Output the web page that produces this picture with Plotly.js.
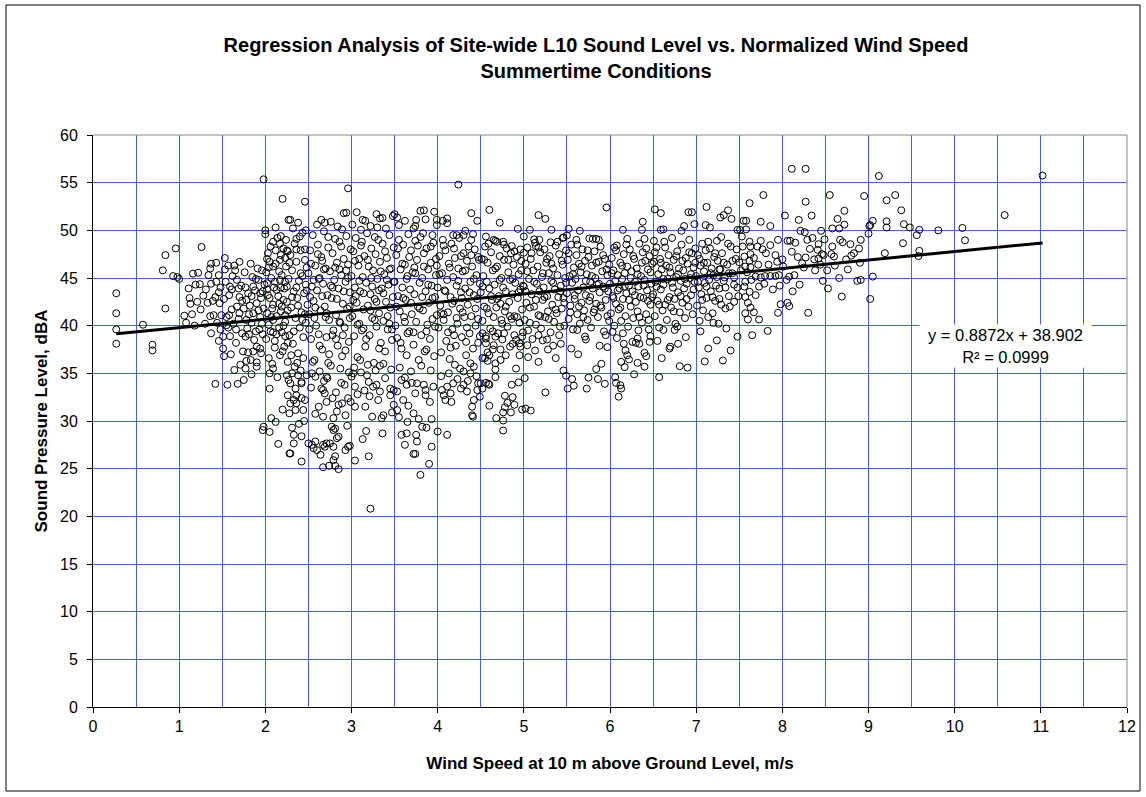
<!DOCTYPE html>
<html><head><meta charset="utf-8">
<script src="https://cdn.plot.ly/plotly-3.0.1.min.js"></script>
<style>html,body{margin:0;padding:0;background:#fff}#chart{width:1146px;height:797px}</style>
</head><body><div id="chart"></div>
<script>
// [wind speed m/s, L10 dBA]
const speedUnder1 = [[0.27,43.4],[0.27,41.3],[0.27,39.6],[0.27,38.1],[0.58,40.1],[0.69,38.0],[0.69,37.4],[0.81,45.8],[0.84,47.4],[0.84,41.8],[0.93,45.2],[0.96,48.1],[0.98,45.1]];

const speed1to2 = [[1.0,44.9],[1.06,41.05],[1.13,42.3],[1.15,41.2],[1.16,45.45],[1.21,42.5],[1.22,45.55],[1.24,44.35],[1.26,48.25],[1.28,43.15],[1.36,46.0],[1.37,46.5],[1.37,44.4],[1.36,41.0],[1.37,39.2],[1.40,41.1],[1.42,43.0],[1.42,33.9],[1.43,46.6],[1.43,44.6],[1.46,43.5],[1.46,38.4],[1.47,42.35],[1.49,41.1],[1.51,38.85],[1.51,37.6],[1.53,47.1],[1.55,40.9],[1.55,40.05],[1.56,33.8],[1.57,46.3],[1.59,44.1],[1.59,38.9],[1.64,35.35],[1.65,45.8],[1.67,44.8],[1.67,42.0],[1.68,33.9],[1.69,43.9],[1.70,46.7],[1.70,43.0],[1.70,41.3],[1.71,35.9],[1.73,39.2],[1.74,37.3],[1.77,38.85],[1.77,35.5],[1.78,42.7],[1.78,40.6],[1.78,36.3],[1.80,43.4],[1.80,37.2],[1.81,39.1],[1.83,46.5],[1.86,44.1],[1.86,41.3],[1.86,37.3],[1.90,42.35],[1.90,37.8],[1.90,36.15],[1.90,35.7],[1.91,46.0],[1.92,44.8],[1.94,43.4],[1.94,40.9],[1.94,37.6],[1.95,37.1],[1.96,45.8],[1.97,39.1],[1.98,41.8],[1.98,55.35],[1.98,29.4],[1.97,29.05],
[1.52,42.8],[1.54,44.6],[1.58,43.2],[1.61,41.7],[1.63,40.2],[1.66,39.6],[1.72,44.2],[1.75,41.8],[1.76,45.6],[1.79,39.7],[1.82,42.1],[1.84,40.3],[1.85,45.1],[1.88,43.7],[1.89,39.4],[1.92,41.6],[1.95,42.9],[1.96,40.2],[1.99,44.3],[1.87,38.5],[1.62,45.2],[1.57,39.8],[1.46,45.3],[1.33,42.4],[1.30,40.2],[1.18,40.0],[1.11,43.9],[1.08,40.3],[1.52,36.8],[1.60,37.0],[1.75,34.3],[1.84,34.9],
[1.12,42.9],[1.19,44.3],[1.25,41.7],[1.31,43.8],[1.34,45.3],[1.39,42.6],[1.44,40.3],[1.48,44.0],[1.53,45.9],[1.58,41.1],[1.61,43.8],[1.64,46.3],[1.69,40.7],[1.73,42.6],[1.77,44.0],[1.81,41.2],[1.84,43.1],[1.89,44.9],[1.93,39.6],[1.97,43.6],[1.66,38.2],[1.83,36.4],[1.48,39.6]];

const speed2to3 = [[2.0,50.0],[2.0,49.6],[2.02,47.0],[2.05,46.7],[2.09,46.2],[2.12,47.9],[2.17,48.6],[2.18,49.4],[2.20,53.3],[2.23,47.1],[2.25,47.9],[2.27,51.1],[2.02,44.45],[2.05,42.9],[2.09,42.2],[2.13,43.75],[2.17,44.8],[2.21,42.7],[2.25,44.1],[2.02,41.3],[2.09,40.6],[2.19,42.0],[2.23,41.1],[2.04,36.6],[2.09,35.5],[2.05,35.0],[2.11,37.7],[2.22,37.8],[2.01,38.6],[2.09,39.3],[2.19,39.3],[2.23,38.9],[2.25,34.8],[2.27,34.3],[2.26,32.7],[2.28,30.8],[2.28,26.6],[2.07,30.3],[2.12,29.9],[2.05,28.85],[2.29,51.1],[2.36,49.1],[2.40,49.35],[2.43,49.75],[2.47,50.0],[2.46,53.0],
[2.31,35.0],[2.38,34.8],[2.42,34.1],[2.48,34.8],[2.29,33.95],[2.35,33.4],[2.42,33.95],[2.36,32.7],[2.33,32.2],[2.29,31.85],[2.36,31.85],[2.42,32.4],[2.46,32.2],[2.35,31.15],[2.44,31.15],[2.33,28.55],[2.42,28.4],[2.33,27.65],[2.29,26.6],[2.42,25.75],
[2.01,45.6],[2.03,43.2],[2.04,40.1],[2.06,48.3],[2.07,45.0],[2.08,41.8],[2.10,44.0],[2.11,38.4],[2.12,46.5],[2.13,41.0],[2.14,49.2],[2.15,43.1],[2.16,39.8],[2.17,46.9],[2.18,41.5],[2.19,45.3],[2.20,37.3],[2.21,48.1],[2.22,43.9],[2.23,40.4],[2.24,46.2],[2.25,42.5],[2.26,36.2],[2.27,44.9],[2.28,39.0],[2.29,47.4],[2.30,41.9],[2.31,45.8],[2.32,38.1],[2.33,43.6],[2.34,48.6],[2.35,40.8],[2.36,46.7],[2.37,42.9],[2.38,37.1],[2.39,44.7],[2.40,39.8],[2.41,47.9],[2.42,41.4],[2.43,45.2],[2.44,36.6],[2.45,43.4],[2.46,48.0],[2.47,40.3],[2.48,46.1],[2.49,42.2],[2.03,47.6],[2.08,36.0],[2.14,34.6],[2.18,44.0],[2.24,49.0],[2.30,36.9],[2.34,35.7],[2.38,50.8],[2.44,38.8],[2.47,44.3],[2.06,39.4],[2.16,42.3],[2.26,47.8],[2.36,44.0],[2.46,41.2],[2.12,50.3],[2.32,50.2],[2.41,35.3],[2.05,33.4],[2.20,31.2],[2.39,29.7],[2.15,27.6],[2.31,29.3],
[2.65,51.1],[2.69,50.8],[2.89,50.1],[2.91,51.8],[2.94,51.85],[2.96,54.4],
[2.58,34.65],[2.71,34.65],[2.67,33.25],[2.69,32.9],[2.65,33.4],[2.82,33.0],[2.71,32.0],[2.85,31.7],[2.83,31.0],[2.89,31.85],[2.67,30.45],[2.79,30.3],[2.93,30.6],[2.96,32.4],[2.58,30.75],
[2.50,27.65],[2.54,27.5],[2.58,27.85],[2.60,26.95],[2.56,27.15],[2.64,26.45],[2.67,27.5],[2.69,27.3],[2.71,27.65],[2.75,27.65],[2.79,27.3],[2.77,29.4],[2.81,29.2],[2.79,29.05],[2.83,28.2],[2.85,28.35],[2.81,26.3],[2.79,25.9],[2.93,26.95],[2.96,27.3],[2.98,27.4],[2.67,25.15],[2.74,25.3],[2.81,25.3],[2.85,24.95],
[2.50,45.5],[2.51,41.2],[2.52,47.9],[2.53,38.6],[2.54,44.1],[2.55,49.5],[2.56,42.6],[2.57,36.4],[2.58,46.3],[2.59,40.0],[2.60,43.7],[2.61,48.5],[2.62,39.1],[2.63,45.0],[2.64,41.6],[2.65,47.2],[2.66,37.5],[2.67,44.4],[2.68,49.9],[2.69,42.0],[2.70,46.0],[2.71,38.8],[2.72,43.2],[2.73,48.2],[2.74,40.6],[2.75,45.7],[2.76,35.8],[2.77,42.9],[2.78,47.6],[2.79,39.5],[2.80,44.8],[2.81,49.1],[2.82,41.1],[2.83,46.6],[2.84,37.9],[2.85,43.9],[2.86,48.8],[2.87,40.3],[2.88,45.3],[2.89,36.8],[2.90,42.3],[2.91,47.0],[2.92,39.8],[2.93,44.6],[2.94,49.4],[2.95,41.8],[2.96,46.4],[2.97,38.3],[2.98,43.5],[2.99,48.0],[2.52,43.0],[2.57,40.8],[2.62,44.9],[2.66,46.8],[2.70,40.9],[2.74,37.0],[2.78,44.0],[2.82,38.6],[2.86,45.9],[2.90,39.0],[2.94,45.8],[2.98,40.8],[2.55,36.2],[2.63,35.2],[2.73,36.1],[2.87,35.5],[2.97,35.1],[2.60,50.6],[2.76,50.9],[2.84,50.4],[2.53,33.5],[2.68,34.2],[2.78,32.4],[2.92,33.8],[2.99,32.0],
[2.02,43.8],[2.04,46.1],[2.07,40.9],[2.09,48.8],[2.11,44.6],[2.13,39.1],[2.16,45.7],[2.18,47.4],[2.21,40.0],[2.23,44.6],[2.26,41.6],[2.28,46.6],[2.31,43.0],[2.33,39.4],[2.36,48.0],[2.38,42.1],[2.41,45.5],[2.43,40.6],[2.46,46.9],[2.48,43.7],[2.51,39.6],[2.53,46.5],[2.56,44.8],[2.58,41.9],[2.61,47.5],[2.63,37.9],[2.66,43.1],[2.68,45.9],[2.71,41.3],[2.73,49.3],[2.76,44.2],[2.78,39.0],[2.81,46.1],[2.83,42.8],[2.86,40.4],[2.88,48.3],[2.91,43.6],[2.93,37.4],[2.96,45.0],[2.98,42.0],[2.54,35.0],[2.72,34.5],[2.88,34.0],[2.62,31.5],[2.95,29.5],[2.45,30.0],[2.26,38.2],[2.37,36.1],[2.17,36.9]];

const speed3to4 = [[3.06,51.9],[3.13,51.1],[3.16,51.0],[3.22,50.45],[3.29,51.7],[3.30,50.3],[3.33,51.25],[3.36,51.3],[3.40,50.2],[3.48,51.5],[3.01,50.6],[3.11,50.05],
[3.0,34.65],[3.02,35.0],[3.04,33.6],[3.18,34.8],[3.20,34.1],[3.29,33.8],[3.33,33.1],[3.31,32.2],[3.45,32.7],[3.49,33.25],[3.45,33.4],[3.04,31.5],[3.16,31.5],[3.24,30.45],[3.37,30.6],[3.35,30.3],[3.04,25.85],[3.13,28.1],[3.17,28.95],[3.20,26.3],[3.22,20.8],
[3.00,45.2],[3.01,41.0],[3.02,47.8],[3.03,38.9],[3.04,44.0],[3.05,49.2],[3.06,42.4],[3.07,36.7],[3.08,46.3],[3.09,40.2],[3.10,43.6],[3.11,48.4],[3.12,39.5],[3.13,45.1],[3.14,41.7],[3.15,47.3],[3.16,37.8],[3.17,44.5],[3.18,49.7],[3.19,42.1],[3.20,46.2],[3.21,39.0],[3.22,43.3],[3.23,48.1],[3.24,40.8],[3.25,45.8],[3.26,36.1],[3.27,42.8],[3.28,47.5],[3.29,39.9],[3.30,44.9],[3.31,49.0],[3.32,41.3],[3.33,46.7],[3.34,38.2],[3.35,43.9],[3.36,48.6],[3.37,40.5],[3.38,45.4],[3.39,37.3],[3.40,42.5],[3.41,47.1],[3.42,39.6],[3.43,44.3],[3.44,49.5],[3.45,41.9],[3.46,46.0],[3.47,38.5],[3.48,43.0],[3.49,48.2],[3.03,35.6],[3.11,35.1],[3.19,35.9],[3.28,35.3],[3.37,36.0],[3.46,35.4],[3.05,43.1],[3.14,39.7],[3.23,45.0],[3.32,43.7],[3.41,44.8],[3.09,47.0],[3.27,40.6],[3.44,40.2],[3.15,33.2],[3.39,34.5],[3.25,33.6],[3.07,32.8],
[3.50,51.7],[3.53,51.35],[3.55,50.55],[3.62,51.0],[3.72,50.2],[3.74,50.45],[3.75,51.1],[3.80,52.05],[3.84,52.1],[3.86,51.15],[3.94,49.5],[3.96,51.95],[3.99,51.1],[3.99,50.55],
[3.62,34.55],[3.64,33.8],[3.60,32.2],[3.66,31.6],[3.72,30.8],[3.74,32.9],[3.76,33.95],[3.84,33.8],[3.86,33.25],[3.86,32.7],[3.91,32.0],[3.78,30.2],[3.93,30.2],[3.53,33.1],[3.49,31.7],[3.53,31.15],[3.55,30.4],
[3.58,28.55],[3.64,28.7],[3.62,27.5],[3.75,28.55],[3.76,27.85],[3.72,26.55],[3.74,26.55],[3.87,29.3],[3.93,27.3],[3.90,25.5],[3.80,24.35],
[3.50,44.6],[3.51,40.0],[3.52,47.4],[3.53,38.7],[3.54,43.1],[3.55,49.0],[3.56,41.5],[3.57,45.9],[3.58,37.6],[3.59,44.0],[3.60,48.5],[3.61,40.9],[3.62,46.4],[3.63,42.7],[3.64,36.9],[3.65,45.2],[3.66,49.6],[3.67,39.4],[3.68,43.8],[3.69,47.9],[3.70,41.2],[3.71,45.6],[3.72,38.0],[3.73,43.3],[3.74,48.9],[3.75,40.4],[3.76,46.9],[3.77,42.0],[3.78,36.4],[3.79,44.5],[3.80,49.3],[3.81,39.0],[3.82,45.0],[3.83,41.6],[3.84,47.6],[3.85,37.3],[3.86,43.6],[3.87,48.1],[3.88,40.1],[3.89,45.9],[3.90,42.4],[3.91,38.6],[3.92,46.6],[3.93,44.2],[3.94,40.7],[3.95,48.7],[3.96,36.8],[3.97,43.0],[3.98,47.0],[3.99,41.1],[3.56,35.6],[3.69,35.2],[3.81,35.8],[3.92,35.3],[3.60,42.9],[3.73,46.1],[3.87,39.4],[3.98,45.3],[3.65,39.2],[3.83,49.7],
[3.02,42.7],[3.04,46.8],[3.07,40.1],[3.09,44.7],[3.12,48.8],[3.14,43.4],[3.17,38.6],[3.19,46.9],[3.22,41.6],[3.24,44.1],[3.27,49.3],[3.29,42.5],[3.32,37.6],[3.34,45.7],[3.37,43.4],[3.39,47.8],[3.42,41.0],[3.44,45.9],[3.47,39.6],[3.49,44.6],[3.52,42.0],[3.54,48.1],[3.57,38.2],[3.59,46.5],[3.62,40.4],[3.64,44.9],[3.67,47.2],[3.69,42.4],[3.72,39.3],[3.74,45.5],[3.77,48.4],[3.79,41.8],[3.82,43.0],[3.84,46.2],[3.87,37.5],[3.89,44.3],[3.92,48.3],[3.94,42.9],[3.97,39.9],[3.99,46.3],[3.10,36.4],[3.33,35.8],[3.58,34.3],[3.70,34.0],[3.95,33.6],[3.21,32.6],[3.47,30.9],[3.82,29.4],[3.65,29.9],[3.36,28.7]];

const speed4to5 = [[4.06,51.0],[4.11,51.25],[4.11,50.75],[4.18,49.5],[4.22,49.5],[4.24,54.8],[4.30,49.5],[4.32,49.95],[4.39,51.8],[4.41,49.6],[4.46,51.0],
[4.05,33.25],[4.07,32.7],[4.09,32.2],[4.11,33.6],[4.15,32.9],[4.16,32.0],[4.18,33.95],[4.30,33.8],[4.34,33.1],[4.40,31.5],[4.42,32.2],[4.40,30.6],[4.41,30.45],[4.46,33.25],[4.47,33.95],[4.49,32.55],[4.20,35.9],[4.26,35.5],[4.30,35.2],[4.38,35.0],[4.38,36.05],[4.42,35.7],[4.0,28.9],[4.11,28.55],
[4.00,44.0],[4.01,39.8],[4.02,47.3],[4.03,42.1],[4.04,37.2],[4.05,45.5],[4.06,49.0],[4.07,40.6],[4.08,43.7],[4.09,47.9],[4.10,38.4],[4.11,44.8],[4.12,41.4],[4.13,46.5],[4.14,36.5],[4.15,43.0],[4.16,48.6],[4.17,39.6],[4.18,45.1],[4.19,42.6],[4.20,47.1],[4.21,37.9],[4.22,44.2],[4.23,40.2],[4.24,46.0],[4.25,49.2],[4.26,41.8],[4.27,43.5],[4.28,38.8],[4.29,45.7],[4.30,47.6],[4.31,40.9],[4.32,43.9],[4.33,36.9],[4.34,46.8],[4.35,42.2],[4.36,48.3],[4.37,39.2],[4.38,44.6],[4.39,41.0],[4.40,46.2],[4.41,37.6],[4.42,43.2],[4.43,48.0],[4.44,40.0],[4.45,45.3],[4.46,42.8],[4.47,38.2],[4.48,46.9],[4.49,44.4],[4.04,34.7],[4.13,35.0],[4.23,34.4],[4.35,34.2],[4.45,34.7],[4.07,41.2],[4.19,39.0],[4.28,42.9],[4.39,47.4],[4.47,40.7],
[4.60,52.15],[4.72,50.8],[4.93,50.15],[4.56,49.35],[4.65,49.0],[4.69,48.8],[4.76,48.8],[4.86,48.35],[4.96,48.0],
[4.50,33.95],[4.56,34.0],[4.59,33.9],[4.60,33.8],[4.52,33.4],[4.67,34.6],[4.78,32.65],[4.87,32.5],[4.89,31.7],[4.81,31.9],[4.78,31.45],[4.76,30.9],[4.68,30.3],[4.76,30.05],[4.76,29.0],[4.86,33.8],[4.94,34.05],[4.98,31.2],
[4.52,39.2],[4.56,38.65],[4.56,38.15],[4.65,37.95],[4.73,37.5],[4.67,38.85],[4.75,38.55],[4.77,39.2],[4.87,38.1],[4.89,39.0],[4.95,38.15],[4.96,37.8],[4.98,38.85],[4.60,36.9],[4.58,36.3],[4.67,36.05],[4.67,35.4],[4.52,36.6],
[4.50,43.5],[4.51,47.0],[4.52,40.5],[4.53,45.2],[4.54,42.0],[4.55,48.3],[4.56,38.9],[4.57,44.6],[4.58,46.6],[4.59,41.3],[4.60,43.9],[4.61,39.7],[4.62,47.7],[4.63,42.7],[4.64,45.8],[4.65,40.9],[4.66,44.3],[4.67,48.9],[4.68,41.9],[4.69,46.2],[4.70,39.2],[4.71,43.1],[4.72,47.3],[4.73,42.3],[4.74,45.0],[4.75,40.2],[4.76,44.0],[4.77,46.9],[4.78,41.5],[4.79,43.6],[4.80,48.1],[4.81,39.9],[4.82,45.6],[4.83,42.5],[4.84,44.8],[4.85,47.6],[4.86,40.7],[4.87,43.3],[4.88,46.4],[4.89,41.0],[4.90,44.5],[4.91,38.5],[4.92,47.2],[4.93,42.9],[4.94,45.4],[4.95,40.3],[4.96,43.8],[4.97,46.8],[4.98,41.7],[4.99,44.2],[4.55,36.6],[4.64,37.5],[4.73,36.4],[4.84,37.8],[4.95,36.9],
[4.02,45.4],[4.04,41.3],[4.07,48.4],[4.09,43.6],[4.12,39.3],[4.14,46.1],[4.17,42.3],[4.19,48.1],[4.22,40.8],[4.24,44.7],[4.27,47.3],[4.29,41.4],[4.32,45.8],[4.34,39.8],[4.37,43.5],[4.39,49.0],[4.42,44.9],[4.44,41.8],[4.47,47.2],[4.49,38.9],[4.52,44.1],[4.54,46.9],[4.57,41.8],[4.59,48.6],[4.62,43.1],[4.64,39.4],[4.67,46.0],[4.69,42.8],[4.72,44.8],[4.74,40.6],[4.77,48.5],[4.79,42.0],[4.82,46.9],[4.84,41.0],[4.87,44.9],[4.89,47.8],[4.92,40.9],[4.94,43.5],[4.97,45.8],[4.99,39.3],[4.15,37.7],[4.33,38.3],[4.58,37.2],[4.79,36.9],[4.91,35.5],[4.27,33.4],[4.85,30.9],[4.60,31.6]];

const speed5to6 = [[5.07,50.05],[5.17,51.6],[5.25,51.2],[5.32,50.05],[5.52,50.15],[5.46,49.25],[5.50,49.45],[5.65,49.95],[5.96,52.4],[5.0,49.35],[5.12,49.05],[5.14,48.35],[5.18,49.0],[5.31,48.75],[5.45,49.2],[5.61,49.0],[5.76,49.15],[5.80,49.1],[5.84,49.1],[5.87,49.0],[5.0,47.65],
[5.01,34.5],[5.02,31.3],[5.08,31.1],[5.49,34.75],[5.56,34.4],[5.58,33.7],[5.51,33.4],[5.73,33.4],[5.75,34.55],[5.86,34.4],[5.94,33.9],[5.84,35.45],[5.04,37.95],[5.05,36.7],[5.17,36.2],[5.17,39.0],[5.22,38.45],[5.27,38.55],[5.28,37.5],[5.34,37.9],[5.41,39.0],[5.43,38.1],[5.55,37.6],[5.62,39.55],[5.71,38.85],[5.72,38.55],[5.95,39.0],[5.97,37.75],
[5.00,44.1],[5.01,40.6],[5.02,46.5],[5.03,42.4],[5.04,48.2],[5.05,39.5],[5.06,44.9],[5.07,41.9],[5.08,47.0],[5.09,43.3],[5.10,38.6],[5.11,45.8],[5.12,42.0],[5.13,48.7],[5.14,40.1],[5.15,44.4],[5.16,46.2],[5.17,41.1],[5.18,43.6],[5.19,47.7],[5.20,39.7],[5.21,45.1],[5.22,42.7],[5.23,44.0],[5.24,48.0],[5.25,40.9],[5.26,46.6],[5.27,43.1],[5.28,41.5],[5.29,45.5],[5.30,47.3],[5.31,39.3],[5.32,44.7],[5.33,42.2],[5.34,46.0],[5.35,40.4],[5.36,43.8],[5.37,48.4],[5.38,41.3],[5.39,45.3],[5.40,43.0],[5.41,47.5],[5.42,39.9],[5.43,44.2],[5.44,41.8],[5.45,46.4],[5.46,42.9],[5.47,40.0],[5.48,45.0],[5.49,47.9],
[5.50,43.4],[5.51,46.9],[5.52,40.7],[5.53,45.2],[5.54,42.1],[5.55,48.5],[5.56,44.5],[5.57,39.6],[5.58,46.1],[5.59,42.8],[5.60,44.9],[5.61,47.4],[5.62,41.2],[5.63,43.7],[5.64,46.5],[5.65,40.2],[5.66,45.6],[5.67,42.4],[5.68,48.0],[5.69,44.0],[5.70,41.6],[5.71,46.8],[5.72,43.2],[5.73,45.4],[5.74,40.6],[5.75,47.2],[5.76,42.6],[5.77,44.6],[5.78,39.8],[5.79,46.3],[5.80,43.9],[5.81,41.4],[5.82,47.8],[5.83,45.0],[5.84,42.3],[5.85,44.3],[5.86,40.9],[5.87,46.7],[5.88,43.5],[5.89,48.3],[5.90,41.9],[5.91,45.7],[5.92,44.1],[5.93,39.4],[5.94,47.0],[5.95,42.7],[5.96,45.9],[5.97,41.0],[5.98,43.6],[5.99,46.4],
[5.02,43.6],[5.04,45.7],[5.07,40.3],[5.09,47.6],[5.12,44.6],[5.14,42.7],[5.17,48.2],[5.19,41.0],[5.22,45.5],[5.24,43.0],[5.27,47.0],[5.29,40.7],[5.32,46.5],[5.34,44.5],[5.37,41.7],[5.39,48.8],[5.42,43.6],[5.44,46.8],[5.47,42.4],[5.49,44.5],[5.52,47.6],[5.54,41.4],[5.57,45.4],[5.59,43.2],[5.62,48.5],[5.64,42.0],[5.67,46.2],[5.69,40.9],[5.72,44.7],[5.74,47.9],[5.77,43.0],[5.79,45.2],[5.82,41.7],[5.84,46.6],[5.87,44.4],[5.89,42.1],[5.92,47.4],[5.94,43.9],[5.97,45.3],[5.99,40.5],[5.13,37.4],[5.37,36.6],[5.63,37.0],[5.88,37.9],[5.46,35.3],[5.25,33.0],[5.90,36.0]];

const speed6to7 = [[6.15,50.05],[6.38,50.9],[6.37,50.05],[6.52,52.2],[6.59,51.8],[6.59,50.05],[6.62,50.1],[6.05,48.2],[6.20,49.1],[6.40,49.1],[6.51,48.9],[6.98,50.65],[6.86,50.45],[6.83,49.95],[6.91,51.9],[6.95,51.9],
[6.06,34.6],[6.07,34.0],[6.12,33.75],[6.13,33.4],[6.10,32.55],[6.28,34.9],[6.57,34.6],[6.03,39.35],[6.16,38.1],[6.18,37.4],[6.20,36.9],[6.22,36.45],[6.13,36.2],[6.17,35.65],[6.26,38.3],[6.30,38.2],[6.32,38.65],[6.34,38.1],[6.40,37.15],[6.42,36.8],[6.32,36.1],[6.40,35.7],[6.46,38.3],[6.47,38.9],[6.62,39.55],[6.69,37.6],
[6.75,39.55],[6.70,37.8],[6.79,38.1],[6.88,38.8],[6.81,35.75],[6.90,35.6],
[6.00,44.4],[6.01,41.3],[6.02,47.1],[6.03,43.1],[6.04,45.8],[6.05,40.0],[6.06,44.7],[6.07,42.3],[6.08,48.4],[6.09,45.3],[6.10,41.7],[6.11,43.9],[6.12,46.6],[6.13,40.5],[6.14,44.9],[6.15,42.8],[6.16,47.5],[6.17,45.5],[6.18,41.0],[6.19,43.4],[6.20,46.2],[6.21,39.9],[6.22,44.2],[6.23,48.0],[6.24,42.0],[6.25,45.7],[6.26,43.6],[6.27,40.8],[6.28,47.0],[6.29,44.6],[6.30,42.5],[6.31,46.0],[6.32,41.5],[6.33,44.1],[6.34,48.6],[6.35,43.0],[6.36,45.2],[6.37,40.3],[6.38,47.7],[6.39,42.9],[6.40,44.8],[6.41,46.8],[6.42,41.2],[6.43,43.7],[6.44,45.9],[6.45,39.6],[6.46,47.3],[6.47,42.2],[6.48,44.4],[6.49,46.5],
[6.50,43.3],[6.51,46.7],[6.52,41.0],[6.53,44.6],[6.54,48.2],[6.55,42.6],[6.56,45.4],[6.57,39.8],[6.58,47.0],[6.59,43.8],[6.60,45.9],[6.61,41.6],[6.62,44.3],[6.63,48.8],[6.64,42.2],[6.65,46.3],[6.66,40.6],[6.67,44.9],[6.68,47.4],[6.69,43.0],[6.70,45.6],[6.71,41.9],[6.72,49.2],[6.73,44.0],[6.74,46.9],[6.75,42.8],[6.76,40.2],[6.77,45.1],[6.78,47.8],[6.79,43.5],[6.80,46.0],[6.81,41.4],[6.82,44.7],[6.83,48.5],[6.84,42.4],[6.85,45.8],[6.86,43.9],[6.87,40.8],[6.88,47.1],[6.89,44.4],[6.90,46.5],[6.91,42.0],[6.92,49.0],[6.93,45.0],[6.94,43.2],[6.95,47.6],[6.96,41.2],[6.97,46.1],[6.98,44.6],[6.99,48.1],
[6.02,45.5],[6.04,42.9],[6.07,47.9],[6.09,43.7],[6.12,41.9],[6.14,46.3],[6.17,44.1],[6.19,48.5],[6.22,42.7],[6.24,45.0],[6.27,47.3],[6.29,43.2],[6.32,45.4],[6.34,40.9],[6.37,46.6],[6.39,44.2],[6.42,48.1],[6.44,42.6],[6.47,45.6],[6.49,43.0],[6.52,47.7],[6.54,44.1],[6.57,42.2],[6.59,46.6],[6.62,44.9],[6.64,48.2],[6.67,42.7],[6.69,46.1],[6.72,44.5],[6.74,41.5],[6.77,47.3],[6.79,45.4],[6.82,43.1],[6.84,46.8],[6.87,44.9],[6.89,42.8],[6.92,47.7],[6.94,45.4],[6.97,43.8],[6.99,46.6],[6.08,38.7],[6.33,39.5],[6.55,38.4],[6.78,39.9],[6.60,36.6],[6.45,40.6],[6.15,39.2]];

const speed7to8 = [[7.12,52.45],[7.32,51.6],[7.37,52.1],[7.41,51.2],[7.28,51.35],[7.11,50.55],[7.16,50.3],[7.27,45.9],[7.33,45.05],[7.38,45.5],[7.44,45.05],
[7.10,36.25],[7.14,37.6],[7.24,38.45],[7.31,36.35],[7.48,38.85],[7.83,39.45],
[7.00,45.2],[7.01,42.1],[7.02,47.4],[7.03,44.0],[7.04,40.5],[7.05,46.3],[7.06,43.3],[7.07,48.6],[7.08,41.6],[7.09,45.7],[7.10,44.5],[7.11,47.9],[7.12,42.9],[7.13,46.6],[7.14,40.9],[7.15,44.8],[7.16,48.1],[7.17,43.6],[7.18,46.0],[7.19,41.3],[7.20,45.3],[7.21,47.2],[7.22,42.6],[7.23,44.2],[7.24,48.9],[7.25,46.8],[7.26,40.2],[7.27,43.9],[7.28,45.9],[7.29,42.2],[7.30,47.6],[7.32,44.7],[7.34,41.8],[7.36,46.4],[7.38,43.1],[7.40,48.3],[7.42,45.5],[7.44,42.5],[7.46,47.0],[7.48,44.0],
[7.48,50.05],[7.51,50.05],[7.53,49.35],[7.55,51.0],[7.58,51.0],[7.58,50.1],[7.62,52.85],[7.75,50.9],[7.78,53.7],[7.86,50.45],
[7.95,49.0],[7.86,48.45],[7.75,48.9],[7.62,48.8],[7.63,48.3],[7.71,48.3],[7.81,47.6],[7.92,47.4],[7.63,46.15],[7.62,46.8],[7.63,47.5],[7.57,46.2],[7.56,47.25],[7.50,46.65],[7.96,45.3],[7.92,45.2],[7.86,45.2],[7.80,45.2],[7.75,45.05],[7.69,45.15],[7.56,44.1],[7.57,44.6],[7.62,43.55],[7.60,42.4],[7.73,44.1],[7.63,41.9],[7.67,41.4],[7.57,41.3],[7.60,40.65],[7.73,40.65],[7.95,41.35],[7.98,42.25],
[7.02,44.6],[7.04,47.0],[7.07,42.7],[7.09,46.6],[7.12,44.1],[7.14,48.8],[7.17,45.5],[7.19,43.0],[7.22,47.6],[7.24,45.1],[7.27,42.8],[7.29,49.3],[7.32,46.6],[7.34,44.0],[7.37,48.6],[7.39,42.0],[7.42,46.8],[7.44,44.3],[7.47,48.0],[7.49,43.1],[7.52,45.8],[7.54,48.3],[7.57,43.0],[7.59,45.6],[7.64,44.8],[7.67,47.1],[7.69,43.2],[7.72,46.4],[7.77,48.0],[7.79,44.4],[7.84,46.4],[7.89,43.8],[7.94,46.7],[7.97,44.2],[7.05,39.4],[7.20,40.3],[7.35,39.7],[7.65,39.0],[7.40,37.4]];

const speedAbove8 = [[8.06,48.9],[8.09,48.9],[8.0,46.95],[8.11,47.75],[8.29,49.0],[8.32,48.05],[8.41,47.95],[8.42,48.55],[8.49,49.05],[8.46,47.5],[8.37,46.95],[8.42,47.05],[8.48,47.4],[8.57,47.5],[8.60,47.25],[8.67,49.0],[8.70,48.75],[8.79,48.55],[8.74,46.95],[8.80,47.35],[8.89,48.1],[8.27,47.15],[8.23,46.55],[8.14,45.3],[8.08,45.15],[8.01,46.2],[8.06,42.4],[8.08,42.05],[8.30,41.35],[8.53,43.9],[8.69,43.05],[8.87,44.7],
[8.55,53.7],[8.72,52.05],[8.64,51.2],[8.72,50.6],[8.58,50.2],[8.66,50.2],[8.45,49.95],[8.26,49.8],[8.21,49.95],[8.03,51.55],[8.19,51.1],[8.34,51.55],[8.11,56.45],[8.27,56.45],[8.27,53.0],
[8.95,53.6],[9.12,55.7],[9.31,53.7],[9.21,53.15],[9.38,52.1],[9.05,51.0],[9.01,50.45],[9.02,50.55],[9.21,50.95],[9.21,50.3],[9.41,50.65],[9.48,50.3],[9.59,50.05],[9.56,49.5],[9.0,49.65],[8.91,49.0],[9.40,48.65],[9.19,47.6],[9.59,47.85],[9.58,47.3],[9.81,50.0],[10.09,50.25],[10.12,48.95],[10.58,51.6],[11.02,55.75],[9.05,45.15],[9.02,42.8],[8.91,44.8],
[8.52,45.8],[8.61,46.3],[8.76,45.9],[8.83,47.6],[8.58,48.3],[8.90,46.6],[8.66,45.0],[8.47,44.7],[8.38,45.8],[8.20,44.3],[8.12,43.6],[8.25,46.1],[8.15,48.7],[8.35,49.2],[8.05,44.8],[8.44,46.4],[8.18,47.2]];

// Excel linear trendline reported on the chart
const trendSlope = 0.8872;
const trendIntercept = 38.902;
const trendR2 = 0.0999;

const xTickVals = [0,1,2,3,4,5,6,7,8,9,10,11,12];
const yTickVals = [0,5,10,15,20,25,30,35,40,45,50,55,60];

const observations = [].concat(speedUnder1, speed1to2, speed2to3, speed3to4, speed4to5, speed5to6, speed6to7, speed7to8, speedAbove8);
const windSpeed = observations.map(p => p[0]);
const soundLevel = observations.map(p => p[1]);
const trendX = [Math.min(...windSpeed), Math.max(...windSpeed)];
const trendY = trendX.map(x => trendSlope * x + trendIntercept);

const FONT = 'Liberation Sans, Arial, Helvetica, sans-serif';
const GRID = '#3d63ff';

const W = 1146, H = 797, L = 93, R = 19, T = 135, B = 90;
const pw = W - L - R, ph = H - T - B;
const px2paperX = p => (p - L) / pw;
const py2paperY = p => (H - B - p) / ph;

const traces = [
  {x: windSpeed, y: soundLevel, type: 'scatter', mode: 'markers',
   marker: {symbol: 'circle-open', size: 7, color: '#000', line: {width: 1, color: '#000'}},
   hoverinfo: 'x+y'},
  {x: trendX, y: trendY, type: 'scatter', mode: 'lines',
   line: {color: '#000', width: 3}, hoverinfo: 'skip'}
];

const layout = {
  width: W, height: H,
  margin: {l: L, r: R, t: T, b: B, pad: 0},
  paper_bgcolor: '#fff', plot_bgcolor: '#fff',
  showlegend: false,
  font: {family: FONT, color: '#000', size: 16},
  title: {
    text: '<b>Regression Analysis of Site-wide L10 Sound Level vs. Normalized Wind Speed</b><br><b>Summertime Conditions</b>',
    font: {family: FONT, size: 20, color: '#000'},
    x: 596 / W, xref: 'container', xanchor: 'center',
    y: 1 - 52 / H, yref: 'container', yanchor: 'top'
  },
  xaxis: {
    range: [0, 12], tickmode: 'array', tickvals: xTickVals, ticktext: xTickVals.map(String),
    showgrid: true, gridcolor: GRID, gridwidth: 1,
    minor: {dtick: 0.5, tick0: 0, showgrid: true, gridcolor: GRID, gridwidth: 1, ticks: ''},
    zeroline: false, showline: true, linecolor: '#000', linewidth: 1,
    ticks: 'outside', ticklen: 5, tickcolor: '#000', tickwidth: 1,
    tickfont: {family: FONT, size: 16, color: '#000'},
    title: {text: '<b>Wind Speed at 10 m above Ground Level, m/s</b>', font: {family: FONT, size: 17, color: '#000'}, standoff: 22},
    automargin: false, fixedrange: true
  },
  yaxis: {
    range: [0, 60], tickmode: 'array', tickvals: yTickVals, ticktext: yTickVals.map(String),
    showgrid: true, gridcolor: GRID, gridwidth: 1,
    zeroline: false, showline: true, linecolor: '#000', linewidth: 1,
    ticks: 'outside', ticklen: 5, tickcolor: '#000', tickwidth: 1,
    ticklabelstandoff: 6,
    tickfont: {family: FONT, size: 16, color: '#000'},
    title: {text: '<b>Sound Pressure Level, dBA</b>', font: {family: FONT, size: 17, color: '#000'}, standoff: 8},
    automargin: false, fixedrange: true
  },
  shapes: [
    {type: 'line', xref: 'paper', yref: 'paper', x0: 0, x1: 1, y0: 1, y1: 1, line: {color: '#888', width: 1}, layer: 'above'},
    {type: 'line', xref: 'paper', yref: 'paper', x0: 1, x1: 1, y0: 0, y1: 1, line: {color: '#888', width: 1}, layer: 'above'},
    {type: 'rect', xref: 'paper', yref: 'paper', x0: px2paperX(6), x1: px2paperX(1140), y0: py2paperY(791), y1: py2paperY(5), line: {color: '#000', width: 1}, fillcolor: 'rgba(0,0,0,0)', layer: 'above'}
  ],
  annotations: [
    {xref: 'x', yref: 'y', x: 10.595, y: 37.87, showarrow: false,
     text: 'y = ' + trendSlope.toFixed(4) + 'x + ' + trendIntercept.toFixed(3) + '<br>R² = ' + trendR2.toFixed(4),
     font: {family: FONT, size: 16.5, color: '#000'}, bgcolor: '#fff', width: 171, height: 42, align: 'center', borderpad: 0}
  ]
};

Plotly.newPlot('chart', traces, layout, {displayModeBar: false, staticPlot: true});
</script>
</body></html>
